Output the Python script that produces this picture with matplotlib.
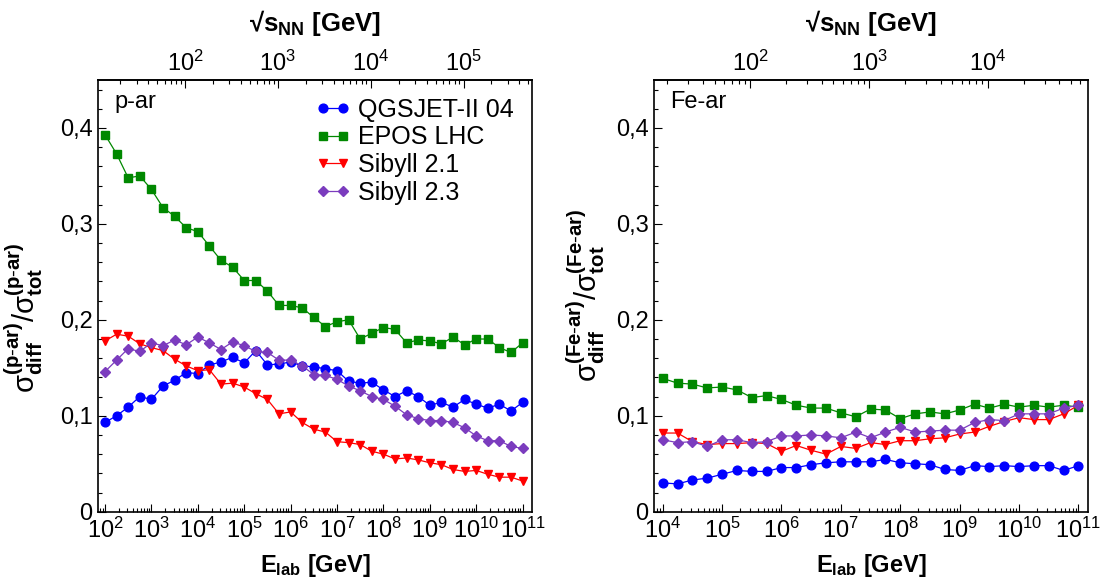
import numpy as np
import matplotlib
matplotlib.use("Agg")
import matplotlib.pyplot as plt
from matplotlib.ticker import LogLocator, MultipleLocator, FuncFormatter, NullFormatter

plt.rcParams['font.family'] = ['Liberation Sans', 'DejaVu Sans']
plt.rcParams['mathtext.fontset'] = 'custom'
plt.rcParams['mathtext.rm'] = 'Liberation Sans'
plt.rcParams['mathtext.it'] = 'Liberation Sans:italic'
plt.rcParams['mathtext.bf'] = 'Liberation Sans:bold'
plt.rcParams['mathtext.sf'] = 'Liberation Sans'

# --- data ---
# energy grid: 4 points per decade
E_p = np.logspace(2, 11, 37)
E_fe = np.logspace(4, 11, 29)

p_qgsjet = [0.093, 0.100, 0.109, 0.120, 0.117, 0.131, 0.137, 0.145, 0.144, 0.153,
            0.156, 0.161, 0.155, 0.168, 0.153, 0.154, 0.156, 0.152, 0.151, 0.149,
            0.147, 0.136, 0.134, 0.135, 0.127, 0.120, 0.126, 0.120, 0.111, 0.114,
            0.109, 0.117, 0.112, 0.108, 0.112, 0.105, 0.114]
p_epos = [0.393, 0.373, 0.348, 0.350, 0.336, 0.317, 0.308, 0.296, 0.292, 0.277,
          0.262, 0.255, 0.241, 0.241, 0.230, 0.215, 0.215, 0.2125, 0.2025, 0.193,
          0.198, 0.200, 0.180, 0.186, 0.192, 0.190, 0.176, 0.179, 0.178, 0.175,
          0.182, 0.174, 0.180, 0.180, 0.171, 0.166, 0.176]
p_sib21 = [0.178, 0.185, 0.183, 0.175, 0.171, 0.168, 0.159, 0.152, 0.147, 0.148,
           0.133, 0.134, 0.130, 0.123, 0.117, 0.102, 0.104, 0.093, 0.086, 0.083,
           0.073, 0.072, 0.070, 0.063, 0.060, 0.055, 0.056, 0.054, 0.051, 0.049,
           0.044, 0.042, 0.043, 0.039, 0.036, 0.036, 0.032]
p_sib23 = [0.146, 0.158, 0.170, 0.167, 0.176, 0.173, 0.179, 0.174, 0.182, 0.176,
           0.169, 0.177, 0.173, 0.167, 0.166, 0.158, 0.158, 0.152, 0.143, 0.142,
           0.138, 0.131, 0.126, 0.120, 0.117, 0.110, 0.101, 0.097, 0.095, 0.095,
           0.093, 0.0875, 0.079, 0.074, 0.074, 0.068, 0.066]

fe_qgsjet = [0.030, 0.029, 0.033, 0.035, 0.039, 0.043, 0.042, 0.042, 0.046, 0.046,
             0.049, 0.051, 0.052, 0.052, 0.052, 0.0545, 0.051, 0.050, 0.049, 0.044,
             0.043, 0.048, 0.047, 0.048, 0.047, 0.048, 0.048, 0.043, 0.048]
fe_epos = [0.139, 0.134, 0.133, 0.129, 0.130, 0.127, 0.119, 0.121, 0.117, 0.111,
           0.108, 0.108, 0.103, 0.099, 0.107, 0.106, 0.097, 0.102, 0.104, 0.102,
           0.106, 0.112, 0.108, 0.112, 0.109, 0.111, 0.109, 0.111, 0.109]
fe_sib21 = [0.082, 0.082, 0.073, 0.070, 0.071, 0.071, 0.072, 0.071, 0.063, 0.069,
            0.064, 0.060, 0.068, 0.066, 0.072, 0.070, 0.074, 0.074, 0.076, 0.077,
            0.081, 0.083, 0.089, 0.094, 0.098, 0.096, 0.096, 0.102, 0.111]
fe_sib23 = [0.075, 0.072, 0.073, 0.068, 0.075, 0.075, 0.072, 0.073, 0.079, 0.079,
            0.080, 0.079, 0.077, 0.083, 0.077, 0.083, 0.088, 0.083, 0.084, 0.085,
            0.085, 0.093, 0.096, 0.095, 0.102, 0.102, 0.102, 0.108, 0.111]

models = ["QGSJET-II 04", "EPOS LHC", "Sibyll 2.1", "Sibyll 2.3"]
colors = ["#0000ff", "#008800", "#ff0000", "#7b3cbe"]
markers = ["o", "s", "v", "D"]
msizes = [6.3, 5.5, 6.3, 4.8]

m_n = 0.938  # nucleon mass, GeV


def log_fmt(v, pos):
    return r'$\mathregular{10^{%d}}$' % int(round(np.log10(v)))


def y_fmt(v, pos):
    if abs(v) < 1e-9:
        return '0'
    return f'{v:.1f}'.replace('.', ',')


fig = plt.figure(figsize=(11.07, 5.85), dpi=100)
ax_p = fig.add_axes([98.3 / 1107, 73.3 / 585, 433.4 / 1107, 431.7 / 585])
ax_fe = fig.add_axes([654 / 1107, 73.3 / 585, 434 / 1107, 431.7 / 585])

panels = [
    (ax_p, E_p, [p_qgsjet, p_epos, p_sib21, p_sib23], 'p-ar', 1, (10**1.856, 10**11.196)),
    (ax_fe, E_fe, [fe_qgsjet, fe_epos, fe_sib21, fe_sib23], 'Fe-ar', 56, (10**3.854, 10**11.16)),
]

for ax, E, series, name, A, xlim in panels:
    for vals, lab, c, mk, ms in zip(series, models, colors, markers, msizes):
        ax.plot(E, vals, color=c, marker=mk, ms=ms, lw=0.9, label=lab)
    ax.set_xscale('log')
    ax.set_xlim(*xlim)
    ax.set_ylim(0, 0.45)
    ax.xaxis.set_major_locator(LogLocator(base=10, numticks=30))
    ax.xaxis.set_minor_locator(LogLocator(base=10, subs=np.arange(2, 10), numticks=30))
    ax.xaxis.set_major_formatter(FuncFormatter(log_fmt))
    ax.xaxis.set_minor_formatter(NullFormatter())
    ax.yaxis.set_major_locator(MultipleLocator(0.1))
    ax.yaxis.set_minor_locator(MultipleLocator(0.02))
    ax.yaxis.set_major_formatter(FuncFormatter(y_fmt))
    ax.tick_params(which='both', direction='in', top=False, right=False, width=0.8)
    ax.tick_params(which='major', length=6, labelsize=17, pad=4)
    ax.tick_params(which='minor', length=3)
    for sp in ax.spines.values():
        sp.set_linewidth(1.2)
    ax.set_xlabel(r'$\mathbf{E_{lab}}$ [GeV]', fontsize=17, fontweight='bold', labelpad=7)
    sup = r'\mathbf{(%s)}' % name.replace('-', r'\text{-}')
    ax.set_ylabel(r'$\mathrm{\sigma}^{%s}_{\mathbf{diff}}/\mathrm{\sigma}^{%s}_{\mathbf{tot}}$' % (sup, sup),
                  fontsize=21)
    ax.text(0.038, 0.975, name, transform=ax.transAxes, ha='left', va='top', fontsize=17)

    def fwd(x, A=A):
        return np.sqrt(2 * m_n * np.clip(x, 1e-30, None) / A)

    def inv(x, A=A):
        return np.asarray(x) ** 2 * A / (2 * m_n)

    sec = ax.secondary_xaxis('top', functions=(fwd, inv))
    sec.xaxis.set_major_locator(LogLocator(base=10, numticks=30))
    sec.xaxis.set_minor_locator(LogLocator(base=10, subs=np.arange(2, 10), numticks=30))
    sec.xaxis.set_major_formatter(FuncFormatter(log_fmt))
    sec.xaxis.set_minor_formatter(NullFormatter())
    sec.tick_params(which='both', direction='in', width=0.8)
    sec.tick_params(which='major', length=6, labelsize=17, pad=3)
    sec.tick_params(which='minor', length=3)
    sec.spines['top'].set_linewidth(1.2)
    sec.set_xlabel(r'√$\mathbf{s_{NN}}$ [GeV]', fontsize=18.5, fontweight='bold', labelpad=14)

ax_p.yaxis.set_label_coords(-0.122, 0.45)
ax_fe.yaxis.set_label_coords(-0.108, 0.5)

ax_p.legend(loc='upper right', frameon=False, numpoints=2, fontsize=18,
            handlelength=1.4, handletextpad=0.3, labelspacing=0.15,
            borderaxespad=0.2, borderpad=0.5)

fig.savefig('out.png', dpi=100)
